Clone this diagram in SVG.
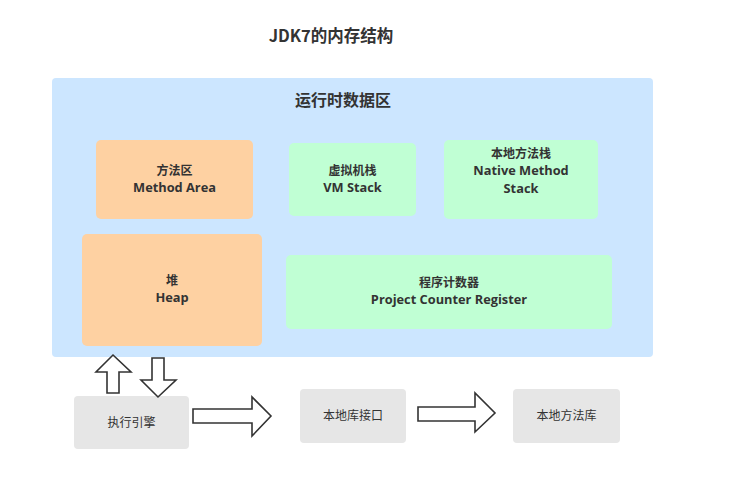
<svg xmlns="http://www.w3.org/2000/svg" width="756" height="497" viewBox="0 0 756 497">
<style>
text{font-family:"Noto Sans CJK SC","Noto Sans",sans-serif;fill:#333;text-anchor:middle}
.t{font-size:12px;font-weight:bold}
.e{font-family:"Open Sans","Noto Sans CJK SC",sans-serif;font-size:12.8px}
.n{font-size:12px}
.h{font-size:16px;font-weight:bold}
.ti{font-size:16.5px}
.or{fill:#fed1a2}
.gr{fill:#c0ffd4}
.gy{fill:#e6e6e6}
.arr{fill:#fff;stroke:#333;stroke-width:1.6;stroke-linejoin:miter}
</style>
<rect width="756" height="497" fill="#fff"/>
<text class="h ti" x="331" y="42">JDK7的内存结构</text>
<g id="runtime">
<rect x="52" y="78" width="601" height="279" rx="4" fill="#cce6ff"/>
<text class="h" x="343" y="106">运行时数据区</text>
</g>
<g id="method-area">
<rect class="or" x="96" y="140" width="157" height="79" rx="5"/>
<text class="t" x="174.5" y="175">方法区</text>
<text class="t e" x="174.5" y="192">Method Area</text>
</g>
<g id="vm-stack">
<rect class="gr" x="289" y="143" width="127" height="73" rx="5"/>
<text class="t" x="352.5" y="175">虚拟机栈</text>
<text class="t e" x="352.5" y="192">VM Stack</text>
</g>
<g id="native-stack">
<rect class="gr" x="444" y="140" width="154" height="79" rx="5"/>
<text class="t" x="521" y="158">本地方法栈</text>
<text class="t e" x="521" y="175">Native Method</text>
<text class="t e" x="521" y="192.5">Stack</text>
</g>
<g id="heap">
<rect class="or" x="82" y="234" width="180" height="112" rx="5"/>
<text class="t" x="172" y="285">堆</text>
<text class="t e" x="172" y="302">Heap</text>
</g>
<g id="pc">
<rect class="gr" x="286" y="255" width="326" height="74" rx="5"/>
<text class="t" x="449" y="287">程序计数器</text>
<text class="t e" x="449" y="304">Project Counter Register</text>
</g>
<g id="engine">
<rect class="gy" x="74" y="396" width="115" height="53" rx="4"/>
<text class="n" x="131.5" y="427">执行引擎</text>
</g>
<g id="native-interface">
<rect class="gy" x="300" y="389" width="106" height="54" rx="4"/>
<text class="n" x="353" y="420">本地库接口</text>
</g>
<g id="native-lib">
<rect class="gy" x="513" y="389" width="107" height="54" rx="4"/>
<text class="n" x="566.5" y="420">本地方法库</text>
</g>
<g id="connectors">
<polygon class="arr" points="113,355 131,372 119,372 119,393 107,393 107,372 96,372"/>
<polygon class="arr" points="152,358 164,358 164,380 176,380 158,397 141,380 152,380"/>
<polygon class="arr" points="193,409 252,409 252,397 271,416 252,436 252,423 193,423"/>
<polygon class="arr" points="418,407 475,407 475,393 495,413 475,432 475,421 418,421"/>
</g>
</svg>
